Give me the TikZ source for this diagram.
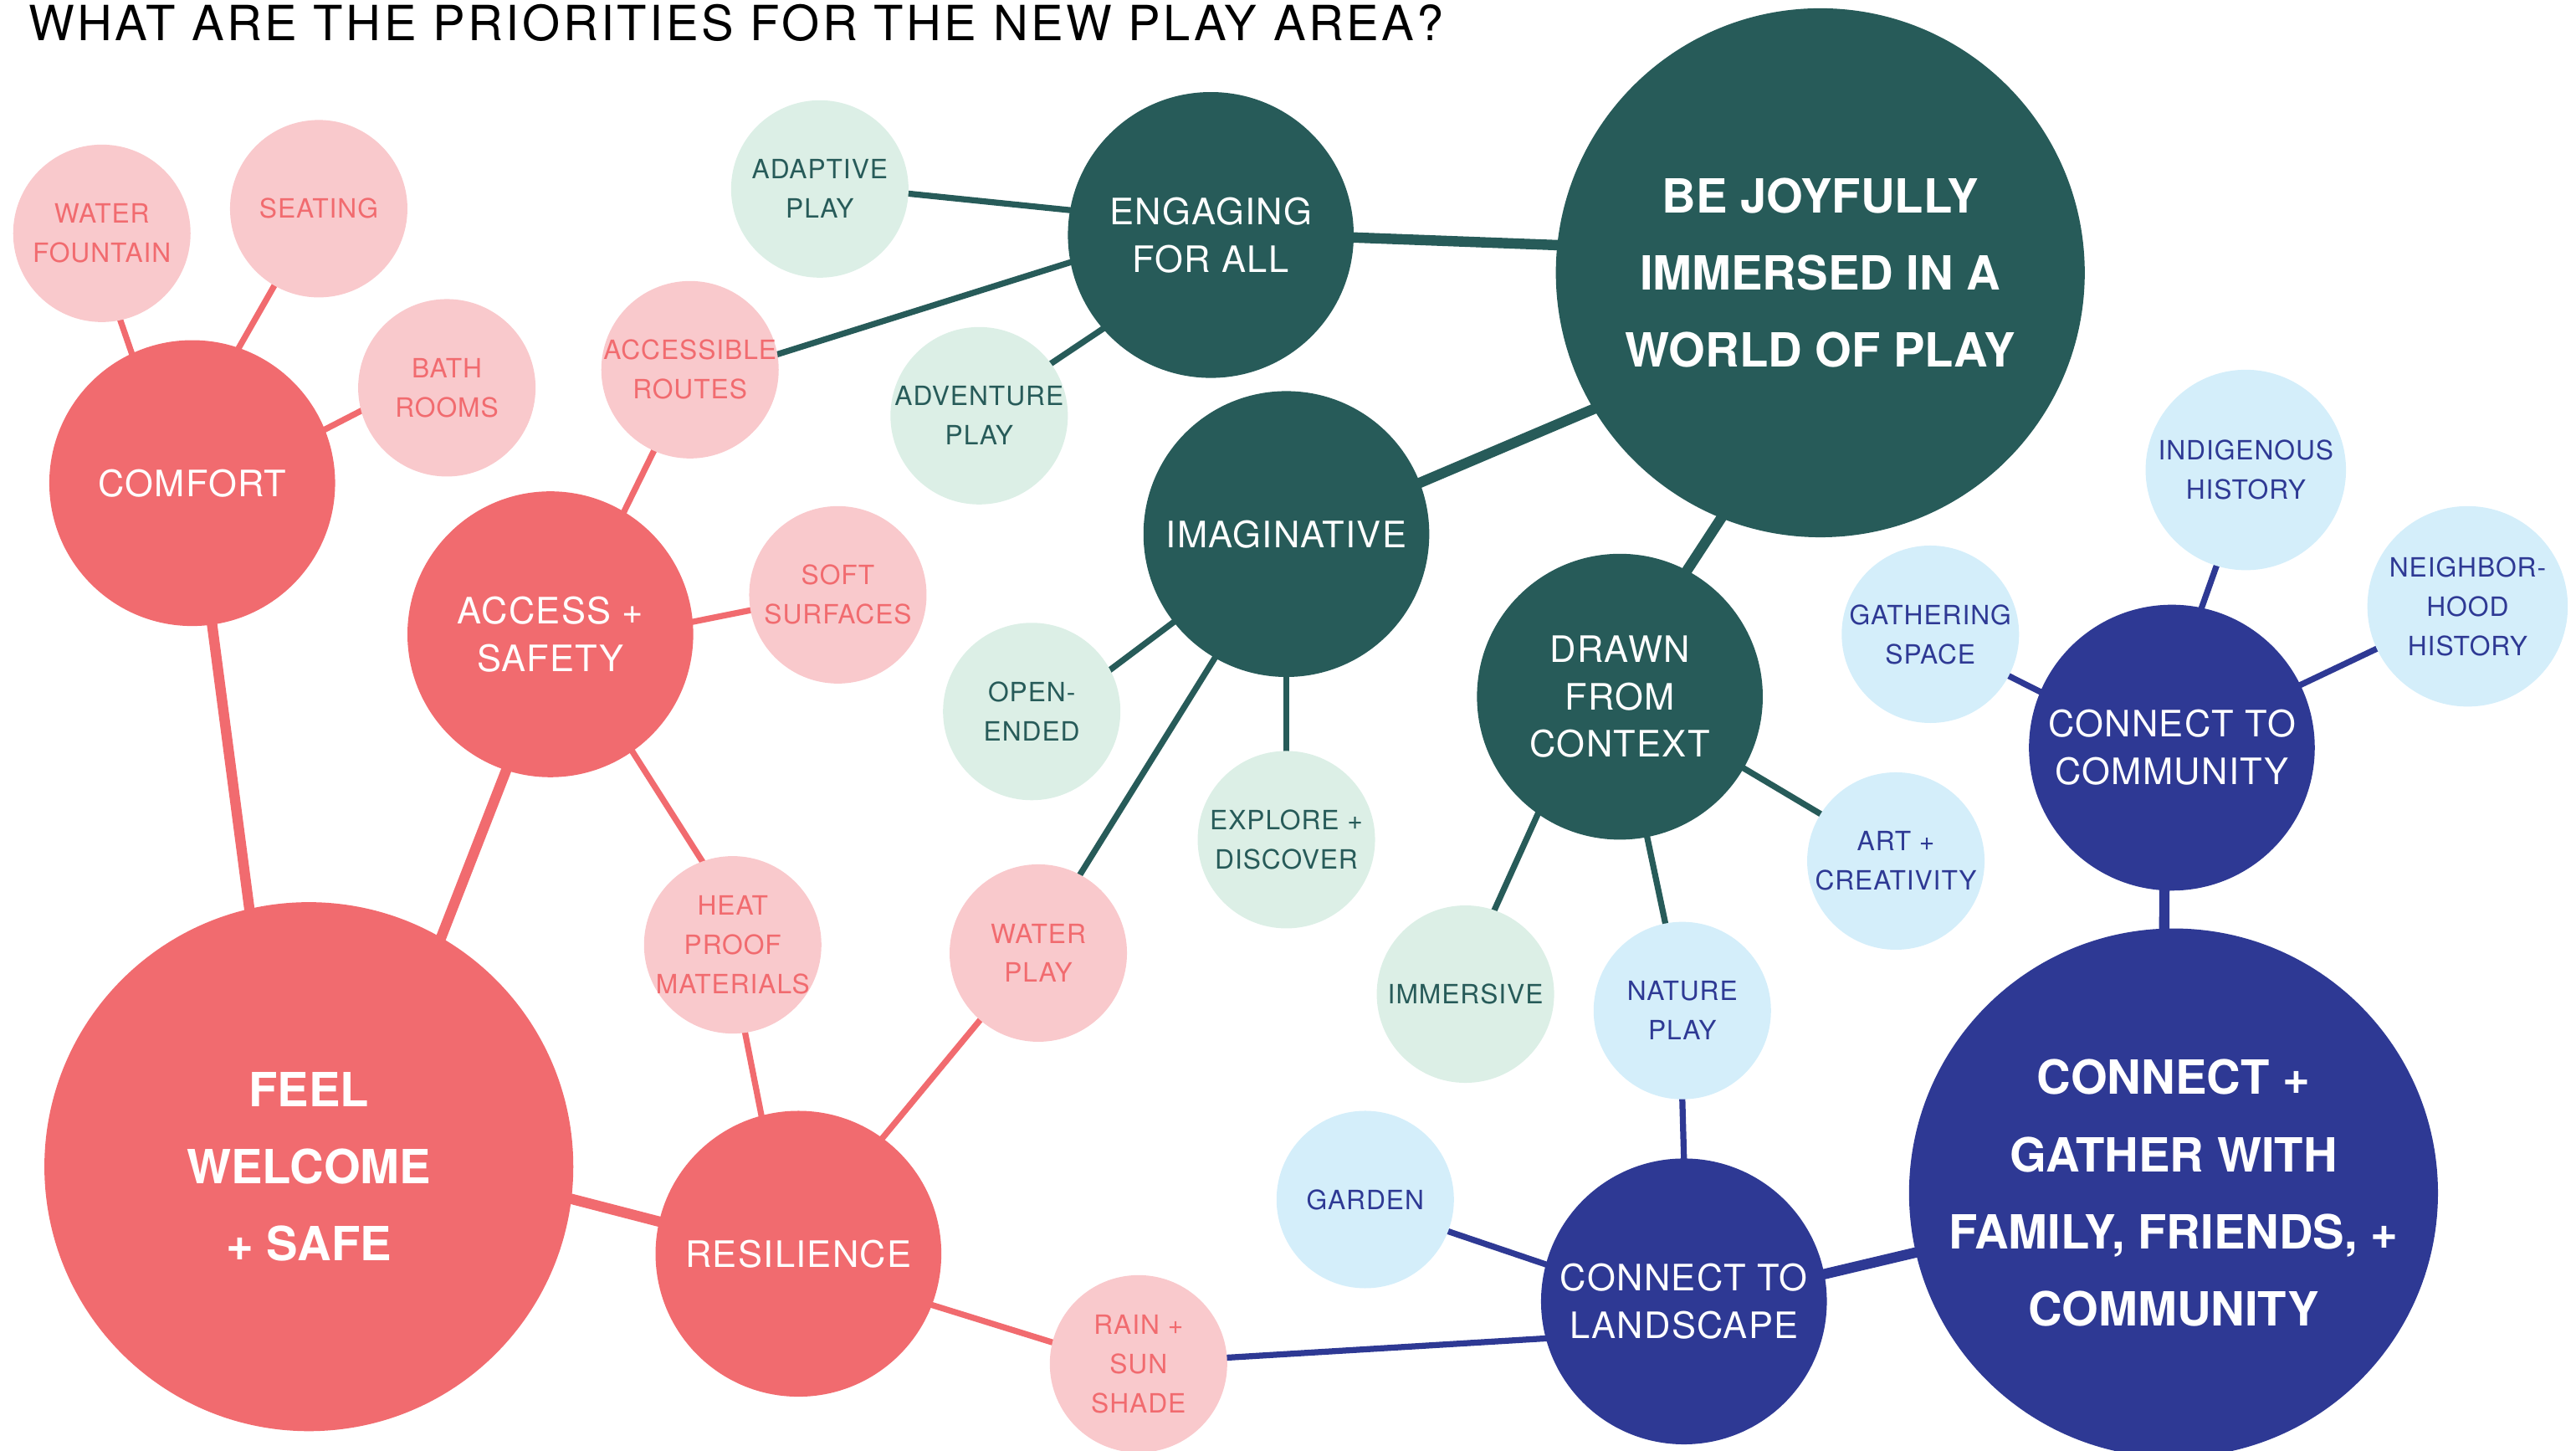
\documentclass[tikz,border=0pt]{standalone}
\usepackage{fontspec}
\setmainfont{TeX Gyre Heros}
\newfontfamily\bubblefont[LetterSpace=3]{TeX Gyre Heros}
\newfontfamily\headfont[LetterSpace=6]{TeX Gyre Heros}
\usepackage{tikz}
\usetikzlibrary{backgrounds}
\definecolor{coral}{HTML}{F16B6F}
\definecolor{coralpale}{HTML}{F9C9CC}
\definecolor{pine}{HTML}{275B59}
\definecolor{pinepale}{HTML}{DCEFE6}
\definecolor{navy}{HTML}{2E3994}
\definecolor{navypale}{HTML}{D4EEFA}

\begin{document}
\begin{tikzpicture}[x=0.02cm,y=-0.02cm,
	bubble/.style={circle,inner sep=-2pt,outer sep=0,align=center},
	big/.style={bubble,inner sep=-15pt,minimum size=6.44cm,text=white,font=\bfseries\fontsize{16.3}{26.7}\selectfont},
	mid/.style={bubble,minimum size=3.48cm,text=white,font=\bubblefont\fontsize{12.6}{16.5}\selectfont},
	small/.style={bubble,minimum size=2.16cm,font=\bubblefont\fontsize{9.2}{13.6}\selectfont},
	trunk/.style={line width=3.6pt,shorten <=-2pt,shorten >=-2pt},
	twig/.style={line width=2.1pt,shorten <=-2pt,shorten >=-2pt}]
	\path[use as bounding box] (0,0) rectangle (1568,883);
	\node[anchor=base west,inner sep=0,font=\headfont\fontsize{16.8}{20}\selectfont] (title) at (17,24.6) {WHAT ARE THE PRIORITIES FOR THE NEW PLAY AREA?};

	\node[big,fill=coral] (feel) at (188,710) {FEEL\\WELCOME\\+ SAFE};
	\node[mid,fill=coral] (comfort) at (117,294) {COMFORT};
	\node[mid,fill=coral] (access) at (335,386) {ACCESS +\\SAFETY};
	\node[mid,fill=coral] (res) at (486,763) {RESILIENCE};
	\node[small,fill=coralpale,text=coral] (fount) at (62,142) {WATER\\FOUNTAIN};
	\node[small,fill=coralpale,text=coral] (seat) at (194,127) {SEATING};
	\node[small,fill=coralpale,text=coral] (bath) at (272,236) {BATH\\ROOMS};
	\node[small,fill=coralpale,text=coral] (routes) at (420,225) {ACCESSIBLE\\ROUTES};
	\node[small,fill=coralpale,text=coral] (soft) at (510,362) {SOFT\\SURFACES};
	\node[small,fill=coralpale,text=coral] (heat) at (446,575) {HEAT\\PROOF\\MATERIALS};
	\node[small,fill=coralpale,text=coral] (water) at (632,580) {WATER\\PLAY};
	\node[small,fill=coralpale,text=coral] (rain) at (693,830) {RAIN +\\SUN\\SHADE};

	\node[big,fill=pine] (joy) at (1108,166) {BE JOYFULLY\\IMMERSED IN A\\WORLD OF PLAY};
	\node[mid,fill=pine] (engage) at (737,143) {ENGAGING\\FOR ALL};
	\node[mid,fill=pine] (imag) at (783,325) {IMAGINATIVE};
	\node[mid,fill=pine] (drawn) at (986,424) {DRAWN\\FROM\\CONTEXT};
	\node[small,fill=pinepale,text=pine] (adapt) at (499,115) {ADAPTIVE\\PLAY};
	\node[small,fill=pinepale,text=pine] (advent) at (596,253) {ADVENTURE\\PLAY};
	\node[small,fill=pinepale,text=pine] (open) at (628,433) {OPEN-\\ENDED};
	\node[small,fill=pinepale,text=pine] (explore) at (783,511) {EXPLORE +\\DISCOVER};
	\node[small,fill=pinepale,text=pine] (immer) at (892,605) {IMMERSIVE};

	\node[big,fill=navy] (gather) at (1323,726) {CONNECT +\\GATHER WITH\\FAMILY, FRIENDS, +\\COMMUNITY};
	\node[mid,fill=navy] (ctc) at (1322,455) {CONNECT TO\\COMMUNITY};
	\node[mid,fill=navy] (ctl) at (1025,792) {CONNECT TO\\LANDSCAPE};
	\node[small,fill=navypale,text=navy] (gspace) at (1175,386) {GATHERING\\SPACE};
	\node[small,fill=navypale,text=navy,minimum size=2.44cm] (indig) at (1367,286) {INDIGENOUS\\HISTORY};
	\node[small,fill=navypale,text=navy,minimum size=2.44cm] (neigh) at (1502,369) {NEIGHBOR-\\HOOD\\HISTORY};
	\node[small,fill=navypale,text=navy] (art) at (1154,524) {ART +\\CREATIVITY};
	\node[small,fill=navypale,text=navy] (nature) at (1024,615) {NATURE\\PLAY};
	\node[small,fill=navypale,text=navy] (garden) at (831,730) {GARDEN};

	\begin{scope}[on background layer]
		\draw[coral,trunk] (feel.103) -- (comfort.-82);
		\draw[coral,trunk] (feel.60) -- (access.252);
		\draw[coral,trunk] (feel.-7) -- (res.167);
		\draw[coral,twig] (comfort.115) -- (fount.-78);
		\draw[coral,twig] (comfort.71) -- (seat.240);
		\draw[coral,twig] (comfort.22) -- (bath.195);
		\draw[coral,twig] (access.59) -- (routes.246);
		\draw[coral,twig] (access.5) -- (soft.190);
		\draw[coral,twig] (access.-55) -- (heat.110);
		\draw[coral,twig] (res.105) -- (heat.-82);
		\draw[coral,twig] (res.54) -- (water.229);
		\draw[coral,twig] (res.-21) -- (rain.166);

		\draw[pine,trunk] (engage.-1) -- (joy.174);
		\draw[pine,trunk] (imag.21) -- (joy.211);
		\draw[pine,trunk] (drawn.62) -- (joy.-112);
		\draw[pine,twig] (engage.170) -- (adapt.-3);
		\draw[pine,twig] (engage.191) -- (routes.10);
		\draw[pine,twig] (engage.221) -- (advent.36);
		\draw[pine,twig] (imag.218) -- (open.28);
		\draw[pine,twig] (imag.-90) -- (explore.90);
		\draw[pine,twig] (imag.240) -- (water.62);
		\draw[pine,twig] (drawn.235) -- (immer.71);
		\draw[pine,twig] (drawn.-79) -- (nature.101);
		\draw[pine,twig] (drawn.-30) -- (art.148);

		\draw[navy,trunk] (ctc.267) -- (gather.92);
		\draw[navy,trunk] (ctl.11) -- (gather.193);
		\draw[navy,twig] (ctc.157) -- (gspace.-28);
		\draw[navy,twig] (ctc.78) -- (indig.253);
		\draw[navy,twig] (ctc.26) -- (neigh.205);
		\draw[navy,twig] (ctl.165) -- (garden.-21);
		\draw[navy,twig] (ctl.90) -- (nature.-90);
		\draw[navy,twig] (ctl.195) -- (rain.4);
	\end{scope}
\end{tikzpicture}
\end{document}
